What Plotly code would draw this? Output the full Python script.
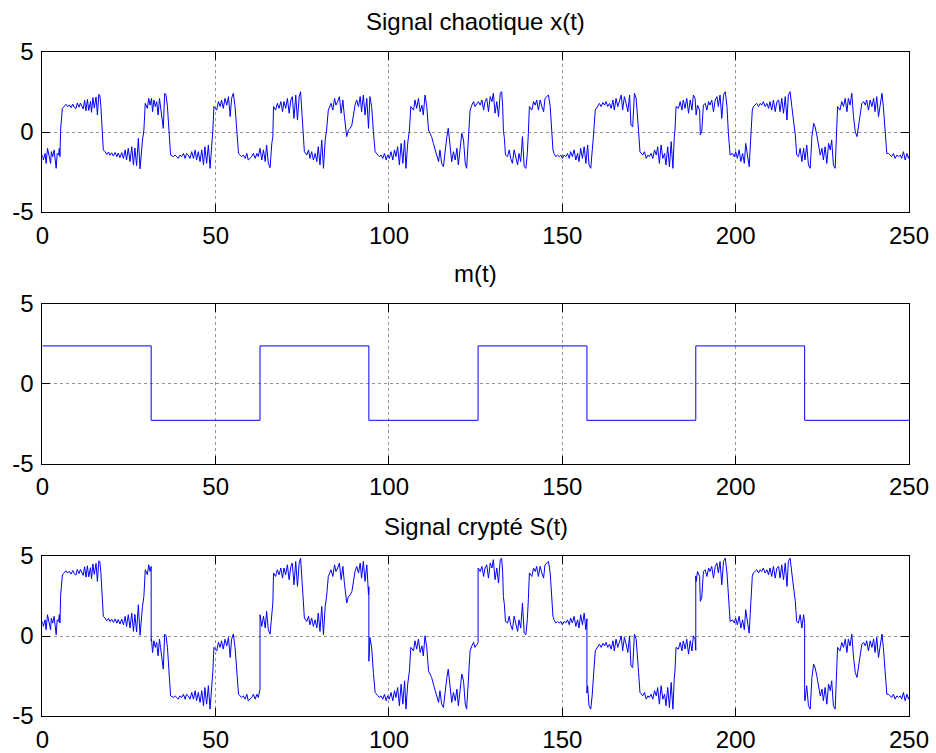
import bisect
import numpy as np
import plotly.graph_objects as go

# ---------------- data ----------------
x_t = [
    0.0, 0.3, 0.8, 1.1, 1.5, 1.9, 2.4, 2.6, 3.0, 3.4, 4.0, 4.3, 4.7, 4.9, 5.1, 5.3, 5.8,
    6.4, 6.8, 7.3, 7.8, 8.3, 8.8, 9.2, 9.7, 10.1, 10.6, 11.0, 11.4, 11.8, 12.2, 12.6, 13.0, 13.4, 13.9, 14.2, 14.6, 15.0, 15.5, 15.9, 16.3, 16.6, 16.9, 17.3, 17.6,
    18.1, 18.6, 19.1, 19.5, 20.0, 20.5, 21.0, 21.5, 21.9, 22.4, 22.9, 23.4, 23.9, 24.3, 24.8, 25.3, 25.8, 26.3, 26.7, 27.2, 27.7, 28.2, 28.9, 29.3, 29.7,
    30.3, 30.7, 31.1, 31.5, 31.8, 32.2, 32.6, 33.0, 33.4, 33.8, 34.1, 34.5, 34.9, 35.3, 35.7, 36.1, 36.6, 37.0,
    37.8, 38.3, 38.8, 39.2, 39.7, 40.2, 40.7, 41.2, 41.6, 42.1, 42.6, 43.1, 43.6, 44.1, 44.5, 45.0, 45.5, 46.0, 46.5, 46.9, 47.4, 47.9, 48.4, 48.9, 49.2, 49.5,
    50.3, 50.8, 51.3, 51.7, 52.2, 52.7, 53.2, 53.7, 54.2, 54.6, 55.1, 55.6, 56.1, 56.6,
    57.0, 57.5, 58.0, 58.5, 59.0, 59.4, 60.4, 60.9, 61.4, 61.9, 62.3, 62.8, 63.3, 63.8, 64.3, 64.7, 65.2, 65.7, 66.2, 66.5, 66.7,
    67.3, 67.8, 68.3, 68.8, 69.3, 69.7, 70.2, 70.7, 71.2, 71.7, 72.1, 72.6, 73.1, 73.6, 74.1, 74.5, 75.0, 75.3, 75.6,
    76.3, 76.8, 77.2, 77.7, 78.2, 78.7, 79.2, 79.6, 80.1, 80.6, 81.1, 81.6, 82.0, 82.5,
    83.3, 83.8, 84.3, 84.7, 85.2, 85.7, 86.2, 86.7, 87.1, 87.5, 87.8, 88.3, 88.8, 89.3, 89.7, 90.2, 90.7, 91.2, 91.7, 92.1, 92.6, 93.1, 93.6, 94.1, 94.5, 95.0, 95.5, 96.0,
    96.8, 97.2, 97.7, 98.2, 98.7, 99.2, 99.6, 100.1, 100.6, 101.1, 101.6, 102.0, 102.5, 103.0, 103.5, 104.0, 104.5, 104.9, 105.4, 105.9, 106.3,
    107.1, 107.5, 108.0, 108.5, 109.0, 109.5, 109.9, 110.4, 110.9, 111.4, 111.9, 112.3,
    112.8, 113.3, 113.8, 114.3, 114.7, 115.2, 115.7, 116.2, 116.7, 117.1, 117.6, 118.1, 118.6, 119.1, 119.6, 120.0, 120.5, 121.0, 121.5, 122.0, 122.4, 122.9, 123.4,
    123.9, 124.4, 124.8, 125.3, 125.8, 126.3, 126.8, 127.3, 127.7, 128.2, 128.7, 129.2, 129.7, 130.1, 130.6, 131.1, 131.6, 132.1, 132.5, 132.8, 133.0, 133.3, 133.6,
    134.2, 134.7, 135.1, 135.6, 136.1, 136.6, 137.1, 137.5, 138.0, 138.5, 139.0, 139.5, 139.9, 140.2, 140.5,
    141.2, 141.7, 142.2, 142.6, 143.1, 143.6, 144.1, 144.6, 145.0, 145.5, 146.0, 146.5, 146.8, 147.3,
    147.6, 148.1, 148.6, 149.1, 149.6, 150.0, 150.5, 151.0, 151.5, 152.0, 152.4, 152.9, 153.4, 153.9, 154.4, 154.8, 155.3, 155.8, 156.3, 156.8, 157.3, 157.7, 158.2, 158.6, 159.0, 159.5,
    160.2, 160.7, 161.2, 161.7, 162.2, 162.6, 163.1, 163.6, 164.1, 164.6, 165.0, 165.5, 166.0, 166.5, 167.0, 167.4, 167.9, 168.4, 168.9, 169.4, 169.8, 170.3, 170.8, 171.3, 171.7, 172.0, 172.4,
    173.2, 173.7, 174.2, 174.7, 175.1, 175.6, 176.1, 176.6, 177.1, 177.5, 178.0, 178.5, 179.0, 179.5, 179.9, 180.4, 180.9, 181.4, 181.9, 182.3, 182.5, 182.8,
    183.5, 184.0, 184.5, 184.9, 185.4, 185.9, 186.4, 186.9, 187.4, 187.8, 188.3, 188.6, 189.0, 189.6, 189.8, 190.2, 190.7, 191.2, 191.7, 192.2, 192.6, 193.1, 193.6, 194.1, 194.6, 195.0, 195.5, 196.0, 196.5, 197.0, 197.5, 197.9, 198.4,
    199.1, 199.6, 200.0, 200.5, 201.0, 201.5, 202.0, 202.5, 202.9, 203.4, 203.9, 204.4, 204.8,
    205.1, 205.6, 206.1, 206.6, 207.1, 207.5, 208.0, 208.5, 209.0, 209.5, 209.9, 210.4, 210.9, 211.4, 211.9, 212.4, 212.8, 213.3, 213.8, 214.3, 214.8, 215.2, 215.7, 216.2, 216.7, 217.2, 217.6,
    218.1, 218.6, 219.1, 219.6, 220.0, 220.5, 221.0, 221.5, 222.0, 222.5, 222.9, 223.4, 223.9, 224.4, 224.9, 225.3, 225.8, 226.3, 226.8, 227.3, 227.7, 228.2, 228.7, 229.0, 229.4,
    230.1, 230.6, 231.1, 231.6, 232.1, 232.5, 233.0, 233.5, 234.0, 234.5, 235.0, 235.4, 235.9, 236.4, 236.9, 237.4, 237.8, 238.3, 238.8, 239.3, 239.8, 240.2, 240.7, 241.2, 241.7, 242.2, 242.6, 243.1, 243.6,
    244.1, 244.6, 245.0, 245.5, 246.0, 246.5, 247.0, 247.5, 247.9, 248.4, 248.9, 249.4, 249.9, 250.0,
]

x_val = [
    -1.44, -1.75, -1.34, -1.96, -1.02, -1.44, -1.96, -1.23, -1.54, -1.12, -2.27, -1.34, -1.44, -1.02, -1.54, 0.23, 1.48,
    1.62, 1.73, 1.58, 1.70, 1.52, 1.74, 1.55, 1.46, 1.81, 1.55, 1.81, 1.62, 1.44, 1.98, 1.33, 2.04, 1.35, 1.92, 1.23, 2.15, 1.50, 2.19, 1.06, 2.35, 2.30, 1.60, 0.02, -1.12,
    -1.23, -1.40, -1.25, -1.45, -1.30, -1.50, -1.28, -1.55, -1.32, -1.60, -1.29, -1.65, -1.12, -1.75, -1.02, -1.85, -0.92, -2.06, -1.00, -2.10, -0.40, -2.30, -0.50, 0.12, 1.79,
    1.48, 2.10, 1.68, 2.10, 1.27, 2.00, 1.59, 1.90, 1.06, 2.10, 1.59, 0.75, 0.23, 2.42, 2.31, 1.59, 0.02, -1.44,
    -1.54, -1.44, -1.54, -1.65, -1.44, -1.54, -1.34, -1.65, -1.34, -1.44, -1.65, -1.23, -1.65, -1.12, -1.75, -1.23, -1.85, -1.12, -2.06, -0.92, -1.96, -0.81, -2.27, -0.92, 0.12, 1.59,
    1.37, 1.90, 1.59, 2.00, 1.48, 2.10, 1.68, 2.21, 0.96, 2.10, 2.42, 1.59, -0.08, -1.34,
    -1.44, -1.54, -1.44, -1.65, -1.34, -1.75, -1.54, -1.34, -1.65, -1.34, -1.54, -1.02, -1.75, -1.12, -1.85, -0.81, -1.96, -2.23, -0.71, -0.29, 1.59,
    1.37, 1.79, 1.48, 1.90, 1.27, 1.90, 1.48, 2.10, 1.17, 2.00, 2.21, 0.85, 2.31, 0.75, 2.21, 2.52, 0.85, 0.02, -1.23,
    -1.44, -1.12, -1.65, -1.23, -1.75, -1.34, -1.85, -0.92, -2.06, -0.50, -2.27, -0.50, 0.12, 1.37,
    1.79, 1.37, 2.10, 1.68, 1.90, 2.21, 1.17, 2.00, 1.06, 0.33, -0.29, 0.12, 0.23, 0.43, 1.06, 1.68, 2.00, 1.59, 2.21, 1.27, 2.31, 1.06, 2.10, 0.23, 2.21, 1.59, 0.02, -1.23,
    -1.44, -1.54, -1.44, -1.65, -1.34, -1.75, -1.44, -1.65, -1.23, -1.75, -1.12, -1.54, -0.92, -2.06, -0.71, -1.96, -0.50, -2.27, -0.71, 0.12, 1.59,
    1.37, 2.00, 1.48, 2.10, 1.27, 1.68, 1.06, 2.31, 1.59, 0.12, -0.08, -0.29,
    -0.71, -1.12, -1.44, -1.85, -1.12, -1.96, -2.17, -1.12, -0.29, 0.23, -0.92, -1.85, -1.23, -1.75, -1.02, -2.06, -1.12, -0.08, -0.50, -1.96, -2.27, -0.18, 1.37,
    1.68, 1.90, 1.59, 1.79, 1.90, 1.68, 2.00, 1.37, 1.90, 2.10, 1.27, 2.21, 1.90, 2.42, 1.17, 1.90, 0.96, 2.42, 2.52, 1.59, 0.12, -0.40, -1.44,
    -1.54, -1.12, -1.65, -1.96, -1.12, -1.65, -2.06, -1.34, -1.85, -0.29, -2.17, -2.27, -1.34, -0.08, 1.59,
    1.37, 1.90, 1.68, 2.00, 1.37, 2.00, 1.59, 1.27, 2.10, 2.21, 2.31, 1.59, 0.23, -1.12,
    -1.34, -1.54, -1.44, -1.54, -1.44, -1.65, -1.44, -1.54, -1.34, -1.65, -1.23, -1.54, -1.12, -1.75, -1.34, -1.85, -1.02, -1.65, -0.92, -1.96, -0.81, -2.06, -2.27, -1.44, -0.18, 1.37,
    1.62, 1.79, 1.59, 1.84, 1.68, 1.90, 1.59, 1.79, 1.48, 2.00, 1.37, 2.10, 1.59, 1.90, 2.31, 1.37, 2.21, 1.79, 1.27, 2.31, 0.43, 0.33, 2.42, 2.10, 0.54, 0.02, -1.23,
    -1.44, -1.23, -1.65, -1.44, -1.54, -1.34, -1.65, -1.12, -1.44, -0.92, -1.96, -0.81, -1.65, -1.34, -2.06, -0.92, -2.17, -0.60, -2.27, -0.29, 0.12, 1.59,
    1.48, 1.90, 1.37, 2.00, 1.48, 2.10, 1.17, 2.00, 1.37, 2.31, 2.10, 1.06, 1.68, 1.37, -0.18, 0.02, 1.68, 1.79, 1.37, 1.90, 1.68, 2.00, 1.27, 2.00, 2.21, 1.59, 2.31, 0.85, 2.31, 2.52, 1.59, -0.08, -1.44,
    -1.34, -1.54, -1.23, -1.65, -1.12, -1.85, -1.34, -1.96, -0.71, -1.54, -2.17, -0.18, 1.37,
    1.59, 1.68, 1.79, 1.59, 1.79, 1.68, 1.90, 1.59, 1.79, 1.48, 1.90, 1.37, 2.00, 1.27, 1.90, 2.00, 1.27, 2.10, 1.17, 2.21, 0.75, 2.31, 2.52, 1.59, 0.85, -0.18, -1.44,
    -1.54, -1.02, -1.85, -1.02, -1.75, -0.81, -2.06, -2.27, -0.29, 0.54, 0.33, -0.18, -0.92, -1.44, -1.02, -1.75, -0.92, -1.96, -0.71, -1.12, -0.50, -2.06, -2.27, -0.50, 1.59,
    1.37, 1.90, 1.59, 2.10, 1.27, 2.10, 1.68, 2.42, 0.96, 0.02, -0.29, 0.43, 1.06, 1.79, 1.90, 1.68, 2.00, 1.37, 2.00, 1.59, 2.10, 1.27, 2.21, 0.96, 1.68, 2.42, 1.59, 0.12, -1.34,
    -1.34, -1.44, -1.54, -1.34, -1.65, -1.44, -1.54, -1.44, -1.65, -1.23, -1.75, -1.34, -1.65, -1.50,
]
assert len(x_t) == len(x_val), (len(x_t), len(x_val))

# message m(t): switching instants and levels
m_switch_t = [0.0, 31.4, 62.8, 94.2, 125.7, 157.1, 188.5, 219.9]
m_level = [2.35, -2.3, 2.35, -2.3, 2.35, -2.3, 2.35, -2.3]
t_end = 250.0

x_ticks = [0, 50, 100, 150, 200, 250]
y_ticks = [-5, 0, 5]
titles = ["Signal chaotique x(t)", "m(t)", "Signal crypté S(t)"]

# ---------------- derived series ----------------
m_t = m_switch_t + [t_end]
m_v = m_level + [m_level[-1]]

# encrypted signal S(t) = x(t) + m(t): x linearly joined, m switched abruptly
s_t, s_val = [], []
for tt, xv in zip(x_t, x_val):
    j = bisect.bisect_right(m_switch_t, tt) - 1
    s_t.append(tt)
    s_val.append(xv + m_level[j])
for j in range(1, len(m_switch_t)):
    ts = m_switch_t[j]
    xs = float(np.interp(ts, x_t, x_val))
    k = bisect.bisect_left(s_t, ts)
    s_t[k:k] = [ts, ts]
    s_val[k:k] = [xs + m_level[j - 1], xs + m_level[j]]
s_val = [round(v, 3) for v in s_val]

# ---------------- figure ----------------
W, H = 936, 753
FONT = "Liberation Sans, Arial, Helvetica, sans-serif"
BLUE = "#0000ff"

x_dom = [42.3 / W, 909.0 / W]
plot_px = [(52.0, 212.0), (303.5, 463.5), (556.0, 716.0)]

fig = go.Figure()
series = [(x_t, x_val, "linear"), (m_t, m_v, "hv"), (s_t, s_val, "linear")]
for k, (tx, vy, shp) in enumerate(series):
    sfx = "" if k == 0 else str(k + 1)
    fig.add_trace(go.Scatter(
        x=tx, y=vy, mode="lines", line=dict(color=BLUE, width=1, shape=shp),
        xaxis="x" + sfx, yaxis="y" + sfx, showlegend=False, hoverinfo="skip",
    ))

axis_common = dict(
    showline=True, linecolor="black", linewidth=1, mirror="ticks",
    ticks="inside", ticklen=8, tickcolor="black", tickwidth=1,
    showgrid=True, gridcolor="rgba(60,60,60,0.55)", griddash="dot", gridwidth=1,
    zeroline=False, automargin=False,
    tickfont=dict(family=FONT, size=24, color="black"),
)

layout = dict(
    width=W, height=H, autosize=False,
    margin=dict(l=0, r=0, t=0, b=0, pad=0, autoexpand=False),
    paper_bgcolor="white", plot_bgcolor="white", showlegend=False,
    font=dict(family=FONT, color="black"),
)
annotations = []
for k, (top, bot) in enumerate(plot_px):
    sfx = "" if k == 0 else str(k + 1)
    ydom = [1 - bot / H, 1 - top / H]
    layout["xaxis" + sfx] = dict(
        axis_common, domain=x_dom, range=[0, t_end], tickvals=x_ticks,
        ticktext=[str(v) for v in x_ticks], anchor="y" + sfx, ticklabelstandoff=2,
    )
    layout["yaxis" + sfx] = dict(
        axis_common, domain=ydom, range=[-5, 5], tickvals=y_ticks,
        ticktext=[str(v) for v in y_ticks], anchor="x" + sfx, ticklabelstandoff=3,
    )
    annotations.append(dict(
        text=titles[k], x=(x_dom[0] + x_dom[1]) / 2, xref="paper",
        y=1 - (top - 30) / H, yref="paper", xanchor="center", yanchor="middle",
        showarrow=False, font=dict(family=FONT, size=24, color="black"),
    ))
layout["annotations"] = annotations
fig.update_layout(**layout)

fig.write_html("out.html", config={"displayModeBar": False, "responsive": False},
               post_script="document.body.style.margin='0';")
